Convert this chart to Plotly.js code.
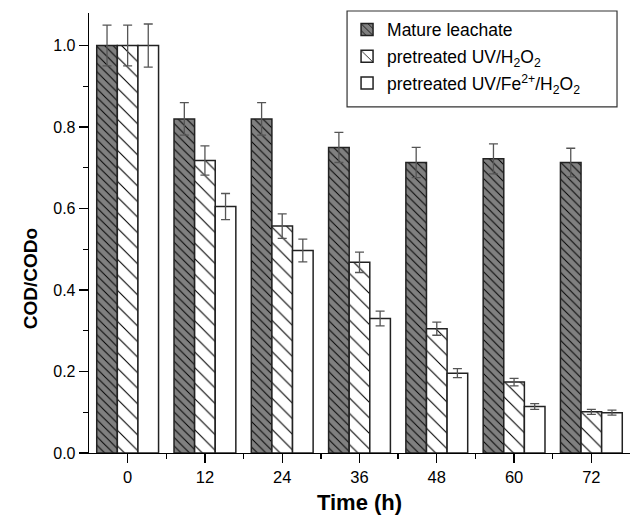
<!DOCTYPE html>
<html><head><meta charset="utf-8">
<script src="https://cdn.plot.ly/plotly-3.0.1.min.js"></script>
<style>html,body{margin:0;padding:0;background:#fff}#chart{width:632px;height:515px}</style>
</head><body><div id="chart"></div>
<script>
const times = [0, 12, 24, 36, 48, 60, 72];
const tickLabels = ['0', '12', '24', '36', '48', '60', '72'];
const yTickVals = [0, 0.2, 0.4, 0.6, 0.8, 1.0];
const yTickText = ['0.0', '0.2', '0.4', '0.6', '0.8', '1.0'];
const seriesNames = ['Mature leachate', 'pretreated UV/H<sub>2</sub>O<sub>2</sub>', 'pretreated UV/Fe<sup>2+</sup>/H<sub>2</sub>O<sub>2</sub>'];
const matureVals = [1.0, 0.82, 0.82, 0.75, 0.713, 0.722, 0.713];
const matureErr  = [0.05, 0.04, 0.04, 0.037, 0.037, 0.037, 0.035];
const uvH2O2Vals = [1.0, 0.718, 0.557, 0.468, 0.305, 0.174, 0.101];
const uvH2O2Err  = [0.05, 0.036, 0.03, 0.025, 0.016, 0.009, 0.006];
const uvFeVals   = [1.0, 0.605, 0.497, 0.330, 0.196, 0.114, 0.099];
const uvFeErr    = [0.053, 0.032, 0.028, 0.018, 0.011, 0.007, 0.006];

const FONT = 'Liberation Sans, Arial, Helvetica, sans-serif';
const outline = {color: '#222', width: 1.5};
const errStyle = (arr) => ({type: 'data', array: arr, visible: true, color: '#555', thickness: 1.3, width: 4.5});

const traces = [
  {type: 'bar', name: seriesNames[0], legendgroup: 'a', x: times, y: matureVals, error_y: errStyle(matureErr),
   marker: {color: '#808080', line: outline,
            pattern: {shape: '\\', fgcolor: '#000', bgcolor: '#808080', size: 6, solidity: 0.16, fillmode: 'replace'}}},
  {type: 'bar', name: seriesNames[1], legendgroup: 'b', x: times, y: uvH2O2Vals, error_y: errStyle(uvH2O2Err),
   marker: {color: '#ffffff', line: outline,
            pattern: {shape: '\\', fgcolor: '#000', bgcolor: '#ffffff', size: 11, solidity: 0.1, fillmode: 'replace'}}},
  {type: 'bar', name: seriesNames[2], legendgroup: 'c', x: times, y: uvFeVals, error_y: errStyle(uvFeErr),
   marker: {color: '#ffffff', line: outline}}
];

const layout = {
  width: 632, height: 515,
  margin: {l: 89, r: 2, t: 13, b: 62},
  paper_bgcolor: '#fff', plot_bgcolor: '#fff',
  font: {family: FONT, size: 16, color: '#000'},
  barmode: 'group', bargap: 0.2, bargroupgap: 0,
  showlegend: true,
  legend: {x: 0.477, xanchor: 'left', y: 1.003, yanchor: 'top', borderwidth: 0,
           bgcolor: 'rgba(0,0,0,0)', font: {family: FONT, size: 17.5, color: '#000'}, tracegroupgap: 1},
  shapes: [
    {type: 'rect', xref: 'paper', yref: 'paper', x0: 0.477, x1: 0.976, y0: 0.7865, y1: 1.0045,
     line: {color: '#333', width: 1.2}, fillcolor: 'rgba(0,0,0,0)', layer: 'above'}
  ],
  annotations: [
    {text: 'COD/CODo', xref: 'paper', yref: 'paper', x: -0.109, y: 0.395, xanchor: 'center', yanchor: 'middle',
     textangle: -90, showarrow: false, font: {family: FONT, size: 19, color: '#000', weight: 700}}
  ],
  xaxis: {
    range: [-6, 78], tickmode: 'array', tickvals: times, ticktext: tickLabels,
    ticks: 'outside', ticklen: 9, tickwidth: 1.3, tickcolor: '#000',
    minor: {tickmode: 'array', tickvals: [6, 18, 30, 42, 54, 66], ticks: 'outside', ticklen: 5, tickwidth: 1.3, tickcolor: '#000'},
    showline: true, linecolor: '#000', linewidth: 1.3, showgrid: false, zeroline: false,
    tickfont: {family: FONT, size: 16.5, color: '#000'},
    title: {text: 'Time (h)', font: {family: FONT, size: 22, color: '#000', weight: 700}, standoff: 11}
  },
  yaxis: {
    range: [0, 1.08], tickmode: 'array', tickvals: yTickVals, ticktext: yTickText,
    ticks: 'outside', ticklen: 9, tickwidth: 1.3, tickcolor: '#000',
    minor: {tickmode: 'array', tickvals: [0.1, 0.3, 0.5, 0.7, 0.9], ticks: 'outside', ticklen: 5, tickwidth: 1.3, tickcolor: '#000'},
    showline: true, linecolor: '#000', linewidth: 1.3, showgrid: false, zeroline: false,
    tickfont: {family: FONT, size: 16, color: '#000'}
  }
};

Plotly.newPlot('chart', traces, layout, {displayModeBar: false, staticPlot: true});
</script></body></html>
